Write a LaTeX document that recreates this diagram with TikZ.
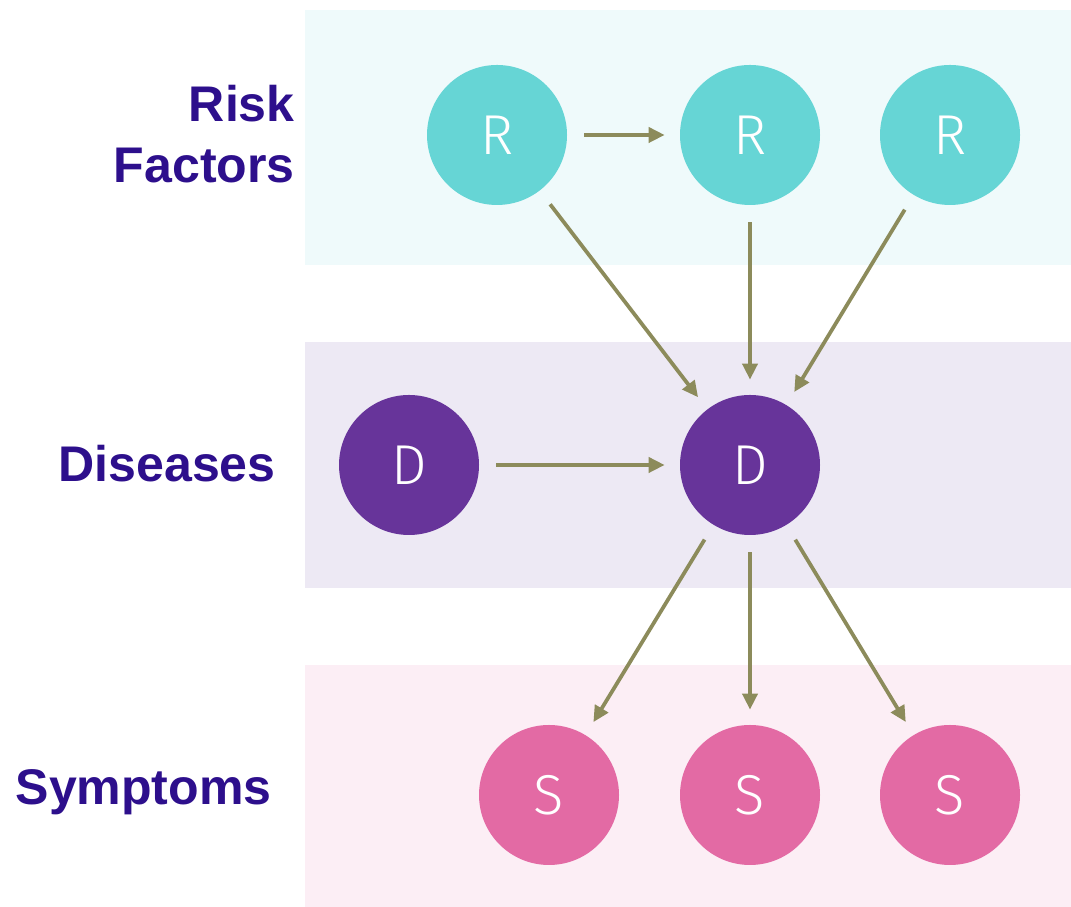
\documentclass[tikz,border=0pt]{standalone}
\usepackage{fontspec}
\setmainfont{Liberation Sans}
\newfontfamily\nodefont{Fira Sans Light}
\usetikzlibrary{arrows.meta}
\definecolor{riskband}{HTML}{EFFAFB}
\definecolor{disband}{HTML}{EDE9F4}
\definecolor{symband}{HTML}{FCEEF5}
\definecolor{riskfill}{HTML}{66D5D5}
\definecolor{disfill}{HTML}{67349A}
\definecolor{symfill}{HTML}{E36AA4}
\definecolor{edgecol}{HTML}{8C8B5B}
\definecolor{labelcol}{HTML}{2D0F8C}
\begin{document}
\begin{tikzpicture}[
		var/.style={circle, minimum size=2.8cm, inner sep=0pt, text=white, font=\nodefont\fontsize{32}{32}\selectfont},
		risk/.style={var, fill=riskfill},
		dis/.style={var, fill=disfill},
		sym/.style={var, fill=symfill},
		layer/.style={text=labelcol, font=\bfseries\fontsize{28.5}{35}\selectfont, align=right, inner sep=0pt},
		link/.style={-{Triangle[length=0.32cm, width=0.3cm]}, edgecol, line width=0.075cm, shorten <=0.34cm, shorten >=0.3cm}
	]
		\useasboundingbox (0, 0) rectangle (21.42, 18.14);
		% bands
		\fill[riskband] (6.1, 12.84) rectangle (21.42, 17.94);
		\fill[disband] (6.1, 6.38) rectangle (21.42, 11.3);
		\fill[symband] (6.1, 0) rectangle (21.42, 4.84);
		% layer names
		\node[layer, anchor=base east] (lrisk) at (5.9, 14.48) {Risk\\Factors};
		\node[layer, anchor=base east] (ldis) at (5.52, 8.5) {Diseases};
		\node[layer, anchor=base east] (lsym) at (5.44, 2.04) {Symptoms};
		% variables
		\node[risk] (r1) at (9.94, 15.44) {R};
		\node[risk] (r2) at (15, 15.44) {R};
		\node[risk] (r3) at (19, 15.44) {R};
		\node[dis] (d1) at (8.18, 8.84) {D};
		\node[dis] (d2) at (15, 8.84) {D};
		\node[sym] (s1) at (10.98, 2.24) {S};
		\node[sym] (s2) at (15, 2.24) {S};
		\node[sym] (s3) at (19, 2.24) {S};
		% links
		\draw[link] (r1) -- (r2);
		\foreach \n in {r1, r2, r3, d1}
			\draw[link] (\n) -- (d2);
		\foreach \n in {s1, s2, s3}
			\draw[link] (d2) -- (\n);
	\end{tikzpicture}
\end{document}
